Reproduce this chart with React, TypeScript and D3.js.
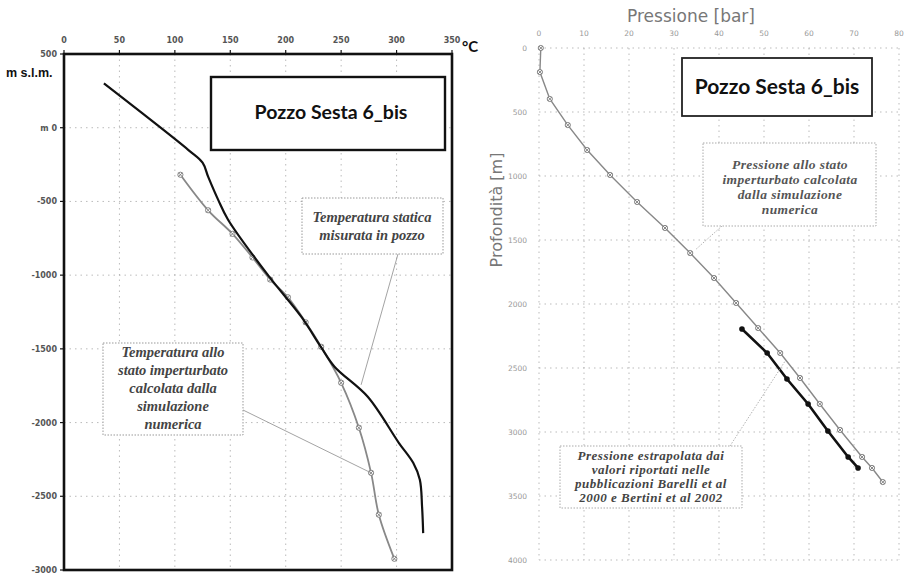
import React from 'react'
import * as d3 from 'd3'

// --- left panel: temperature (°C) vs elevation (m s.l.m.)
const tempTicks = [0, 50, 100, 150, 200, 250, 300, 350]
const elevTicks = [500, 0, -500, -1000, -1500, -2000, -2500, -3000]
const elevLabels = ['500', 'm 0', '-500', '-1000', '-1500', '-2000', '-2500', '-3000']

// measured static temperature (black)
const measTemp = [36, 112, 125, 130, 139, 148, 184, 214, 232, 244, 274, 302, 315, 321, 323, 324]
const measElev = [300, -150, -237, -332, -488, -624, -1000, -1282, -1490, -1621, -1825, -2137, -2273, -2388, -2571, -2750]

// simulated undisturbed temperature (grey, markers)
const simTemp = [105, 130, 152, 170, 186, 202, 218, 232, 250, 266, 277, 284, 298]
const simElev = [-319, -560, -720, -880, -1030, -1150, -1320, -1486, -1730, -2035, -2341, -2625, -2924]

// --- right panel: pressure (bar) vs depth (m)
const presTicks = [0, 10, 20, 30, 40, 50, 60, 70, 80]
const depthTicks = [0, 500, 1000, 1500, 2000, 2500, 3000, 3500, 4000]

const simDepth = [0, 188, 398, 602, 797, 992, 1203, 1406, 1602, 1797, 1992, 2188, 2383, 2578, 2781, 2984, 3195, 3281, 3391]
const simPres = [0.4, 0.2, 2.4, 6.4, 10.7, 15.8, 21.8, 28, 33.6, 38.9, 43.8, 48.7, 53.6, 58, 62.4, 66.9, 71.8, 74, 76.4]

const extDepth = [2195, 2383, 2586, 2781, 2992, 3195, 3281]
const extPres = [45.1, 50.7, 55.1, 59.8, 64.2, 68.7, 70.9]

const tempNote = ['Temperatura statica', 'misurata in pozzo']
const simNote = ['Temperatura allo', 'stato imperturbato', 'calcolata dalla', 'simulazione', 'numerica']
const presNote = ['Pressione  allo stato', 'imperturbato calcolata', 'dalla simulazione', 'numerica']
const extNote = ['Pressione  estrapolata dai', 'valori riportati nelle', 'pubblicazioni Barelli  et al', '2000 e Bertini et al 2002']

const noteFont = '"Liberation Serif", "DejaVu Serif", serif'
const boldFont = 'Lato, "Open Sans", sans-serif'

const Marker = ({ x, y, dark }: { x: number; y: number; dark?: boolean }) =>
  dark ? (
    <circle cx={x} cy={y} r={2.8} fill='#111' />
  ) : (
    <g stroke='#777' strokeWidth={0.9} fill='#fff'>
      <circle cx={x} cy={y} r={2.6} />
      <line x1={x - 2} y1={y - 2} x2={x + 2} y2={y + 2} />
      <line x1={x - 2} y1={y + 2} x2={x + 2} y2={y - 2} />
    </g>
  )

const LeftPanel = () => {
  const x = d3.scaleLinear().domain([0, 350]).range([64, 452])
  const y = d3.scaleLinear().domain([500, -3000]).range([54, 570])

  const line = d3
    .line<[number, number]>()
    .x((d) => x(d[0]))
    .y((d) => y(d[1]))
    .curve(d3.curveCatmullRom)

  const meas = measTemp.map((t, i) => [t, measElev[i]] as [number, number])
  const sim = simTemp.map((t, i) => [t, simElev[i]] as [number, number])

  return (
    <g>
      {/* grid */}
      <g stroke='#aaa' strokeWidth={0.8} strokeDasharray='1.5,4'>
        {tempTicks.slice(1, -1).map((t) => (
          <line key={t} x1={x(t)} x2={x(t)} y1={y(500)} y2={y(-3000)} />
        ))}
        {elevTicks.slice(1, -1).map((e) => (
          <line key={e} x1={x(0)} x2={x(350)} y1={y(e)} y2={y(e)} />
        ))}
      </g>

      {/* frame */}
      <rect x={x(0)} y={y(500)} width={x(350) - x(0)} height={y(-3000) - y(500)} fill='none' stroke='#111' strokeWidth={2.6} />

      {/* top ticks */}
      {tempTicks.map((t) => (
        <g key={t}>
          <line x1={x(t)} x2={x(t)} y1={y(500) - 4} y2={y(500)} stroke='#111' strokeWidth={1.2} />
          <text x={x(t)} y={y(500) - 11} textAnchor='middle' fontSize={8} fontWeight='bold' fill='#555' fontFamily='"DejaVu Sans", sans-serif'>
            {t}
          </text>
        </g>
      ))}
      <text x={462} y={52} fontSize={15} fontWeight='bold' fill='#111' fontFamily={boldFont}>°C</text>

      {/* left ticks */}
      {elevTicks.map((e, i) => (
        <g key={e}>
          <line x1={x(0) - 4} x2={x(0)} y1={y(e)} y2={y(e)} stroke='#111' strokeWidth={1.2} />
          <text x={x(0) - 7} y={y(e) + 3} textAnchor='end' fontSize={8} fontWeight='bold' fill='#555' fontFamily='"DejaVu Sans", sans-serif'>
            {elevLabels[i]}
          </text>
        </g>
      ))}
      <text x={6} y={77} fontSize={12.5} fontWeight='bold' fill='#111' fontFamily='"Liberation Sans", Arial, sans-serif'>m s.l.m.</text>

      {/* curves */}
      <path d={line(sim) ?? ''} fill='none' stroke='#888' strokeWidth={1.8} />
      {sim.map((d, i) => (
        <Marker key={i} x={x(d[0])} y={y(d[1])} />
      ))}
      <path d={line(meas) ?? ''} fill='none' stroke='#111' strokeWidth={2.2} />

      {/* title box */}
      <rect x={211} y={77} width={234} height={73} fill='#fff' stroke='#111' strokeWidth={2.4} />
      <text x={331} y={119} textAnchor='middle' fontSize={19.5} fontWeight='bold' fill='#111' fontFamily={boldFont}>
        Pozzo Sesta 6_bis
      </text>

      {/* note: measured */}
      <line x1={398} y1={254} x2={x(268)} y2={y(-1744)} stroke='#999' strokeWidth={0.9} />
      <rect x={302} y={198} width={141} height={56} fill='#fff' stroke='#999' strokeWidth={1} strokeDasharray='1.5,1.5' />
      {tempNote.map((s, i) => (
        <text key={s} x={372} y={222 + i * 18} textAnchor='middle' fontSize={14.5} fontStyle='italic' fontWeight='bold' fill='#444' fontFamily={noteFont}>
          {s}
        </text>
      ))}

      {/* note: simulated */}
      <line x1={243} y1={410} x2={x(sim[10][0])} y2={y(sim[10][1])} stroke='#999' strokeWidth={0.9} />
      <rect x={103} y={343} width={140} height={92} fill='#fff' stroke='#999' strokeWidth={1} strokeDasharray='1.5,1.5' />
      {simNote.map((s, i) => (
        <text key={s} x={173} y={357 + i * 18} textAnchor='middle' fontSize={14.5} fontStyle='italic' fontWeight='bold' fill='#444' fontFamily={noteFont}>
          {s}
        </text>
      ))}
    </g>
  )
}

const RightPanel = () => {
  const x = d3.scaleLinear().domain([0, 80]).range([539, 899])
  const y = d3.scaleLinear().domain([0, 4000]).range([48, 560])

  const line = d3
    .line<[number, number]>()
    .x((d) => x(d[0]))
    .y((d) => y(d[1]))

  const sim = simPres.map((p, i) => [p, simDepth[i]] as [number, number])
  const ext = extPres.map((p, i) => [p, extDepth[i]] as [number, number])

  return (
    <g>
      <g stroke='#aaa' strokeWidth={0.8} strokeDasharray='1.5,4'>
        {presTicks.map((t) => (
          <line key={t} x1={x(t)} x2={x(t)} y1={y(0)} y2={y(4000)} />
        ))}
        {depthTicks.map((d) => (
          <line key={d} x1={x(0)} x2={x(80)} y1={y(d)} y2={y(d)} />
        ))}
      </g>

      <text x={691} y={22} textAnchor='middle' fontSize={17} fill='#777' fontFamily='"DejaVu Sans", sans-serif'>
        Pressione [bar]
      </text>
      {presTicks.map((t) => (
        <text key={t} x={x(t)} y={36} textAnchor='middle' fontSize={7.5} fill='#999' fontFamily='"DejaVu Sans", sans-serif'>
          {t}
        </text>
      ))}
      {depthTicks.map((d) => (
        <text key={d} x={527} y={y(d) + 3} textAnchor='end' fontSize={7.5} fill='#999' fontFamily='"DejaVu Sans", sans-serif'>
          {d}
        </text>
      ))}
      <text transform='translate(502,210) rotate(-90)' textAnchor='middle' fontSize={16} fill='#777' fontFamily='"DejaVu Sans", sans-serif'>
        Profondità [m]
      </text>

      <path d={line(sim) ?? ''} fill='none' stroke='#888' strokeWidth={1.4} />
      {sim.map((d, i) => (
        <Marker key={i} x={x(d[0])} y={y(d[1])} />
      ))}
      <path d={line(ext) ?? ''} fill='none' stroke='#111' strokeWidth={2.6} />
      {ext.map((d, i) => (
        <Marker key={i} x={x(d[0])} y={y(d[1])} dark />
      ))}

      <rect x={682} y={58} width={190} height={58} fill='#fff' stroke='#222' strokeWidth={1.8} />
      <text x={777} y={94} textAnchor='middle' fontSize={21} fontWeight='bold' fill='#111' fontFamily={boldFont}>
        Pozzo Sesta 6_bis
      </text>

      <line x1={722} y1={226} x2={x(sim[8][0]) + 6} y2={y(sim[8][1]) - 4} stroke='#aaa' strokeWidth={0.9} strokeDasharray='1.5,1.5' />
      <rect x={703} y={143} width={173} height={83} fill='#fff' stroke='#aaa' strokeWidth={1} strokeDasharray='1.5,1.5' />
      {presNote.map((s, i) => (
        <text key={s} x={790} y={169 + i * 15} textAnchor='middle' fontSize={13.5} letterSpacing={0.4} fontStyle='italic' fontWeight='bold' fill='#555' fontFamily={noteFont}>
          {s}
        </text>
      ))}

      <line x1={730} y1={446} x2={x(ext[1][0]) + 18} y2={y(ext[1][1]) + 8} stroke='#aaa' strokeWidth={0.9} strokeDasharray='1.5,1.5' />
      <rect x={560} y={446} width={182} height={62} fill='#fff' stroke='#aaa' strokeWidth={1} strokeDasharray='1.5,1.5' />
      {extNote.map((s, i) => (
        <text key={s} x={651} y={460 + i * 14} textAnchor='middle' fontSize={13} letterSpacing={0.5} fontStyle='italic' fontWeight='bold' fill='#444' fontFamily={noteFont}>
          {s}
        </text>
      ))}
    </g>
  )
}

const App = () => {
  return (
    <svg
      width={904}
      height={578}
      style={{ position: 'absolute', left: 0, top: 0, background: '#fff' }}
    >
      <LeftPanel />
      <RightPanel />
    </svg>
  )
}

export default App
